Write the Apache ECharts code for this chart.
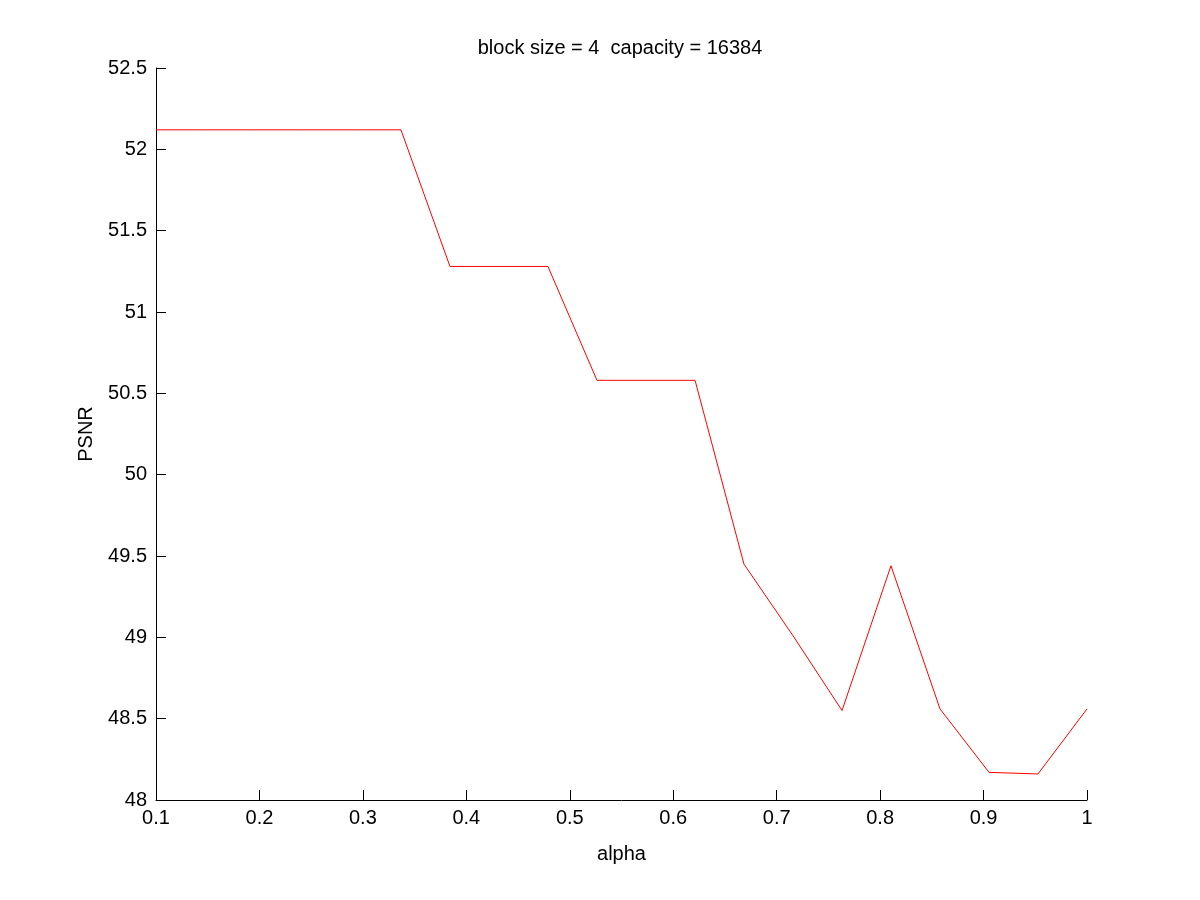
<!DOCTYPE html>
<html>
<head>
<meta charset="utf-8">
<script src="https://cdn.jsdelivr.net/npm/echarts@6/dist/echarts.min.js"></script>
<style>
  html, body { margin: 0; padding: 0; background: #fff; }
  #main { width: 1200px; height: 900px; }
</style>
</head>
<body>
<div id="main"></div>
<script>
// alpha 取值 (0.1 .. 1, 20 个点)
var alpha = [0.1, 0.1474, 0.1947, 0.2421, 0.2895, 0.3368, 0.3842, 0.4316, 0.4789, 0.5263,
             0.5737, 0.6211, 0.6684, 0.7158, 0.7632, 0.8105, 0.8579, 0.9053, 0.9526, 1.0];
// 对应的 PSNR
var psnr = [52.12, 52.12, 52.12, 52.12, 52.12, 52.12, 51.28, 51.28, 51.28, 50.58,
            50.58, 50.58, 49.45, 49.01, 48.55, 49.44, 48.56, 48.17, 48.16, 48.56];

var chartTitle = 'block size = 4  capacity = 16384';
var xName = 'alpha';
var yName = 'PSNR';

var points = alpha.map(function (a, i) { return [a, psnr[i]]; });

var myChart = echarts.init(document.getElementById('main'));

var font = 'Liberation Sans, Arial, Helvetica, sans-serif';

var option = {
  animation: false,
  backgroundColor: '#fff',
  title: {
    text: chartTitle,
    left: 615,
    top: 33,
    textAlign: 'center',
    textStyle: { fontFamily: font, fontSize: 20, fontWeight: 'normal', color: '#000' }
  },
  grid: {
    left: 156,
    right: 113,
    top: 68,
    bottom: 100
  },
  xAxis: {
    type: 'value',
    min: 0.1,
    max: 1,
    interval: 0.1,
    name: xName,
    nameLocation: 'middle',
    nameGap: 44,
    nameTextStyle: { fontFamily: font, fontSize: 20, color: '#000' },
    axisLine: { show: true, lineStyle: { color: '#000', width: 1 } },
    axisTick: { show: true, inside: true, length: 10, lineStyle: { color: '#000' } },
    axisLabel: { fontFamily: font, fontSize: 20, color: '#000', margin: 8 },
    splitLine: { show: false }
  },
  yAxis: {
    type: 'value',
    min: 48,
    max: 52.5,
    interval: 0.5,
    name: yName,
    nameLocation: 'middle',
    nameGap: 60,
    nameTextStyle: { fontFamily: font, fontSize: 20, color: '#000' },
    axisLine: { show: true, lineStyle: { color: '#000', width: 1 } },
    axisTick: { show: true, inside: true, length: 10, lineStyle: { color: '#000' } },
    axisLabel: { fontFamily: font, fontSize: 20, color: '#000', margin: 9 },
    splitLine: { show: false }
  },
  series: [
    {
      type: 'line',
      data: points,
      showSymbol: false,
      symbol: 'none',
      lineStyle: { color: '#ff0000', width: 1 }
    }
  ]
};

myChart.setOption(option);
</script>
</body>
</html>
